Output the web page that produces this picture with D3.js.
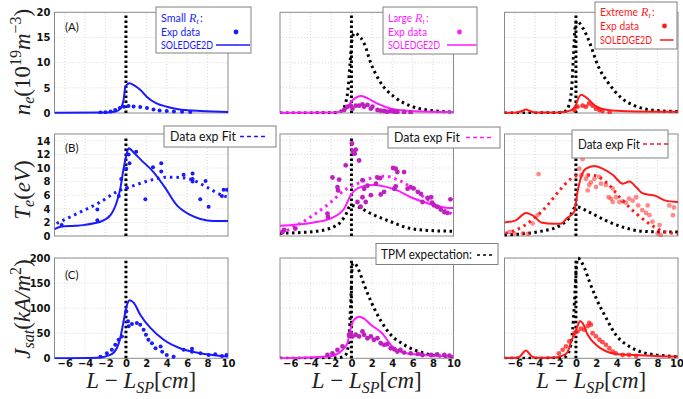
<!DOCTYPE html>
<html>
<head>
<meta charset="utf-8">
<script src="https://cdn.jsdelivr.net/npm/d3@7"></script>
<style>
  body { margin: 0; background: #fff; }
  svg { display: block; }
</style>
</head>
<body>
<svg id="chart" width="683" height="399"></svg>
<script>
// ---- axis ticks ----
const xTicks = [-6, -4, -2, 0, 2, 4, 6, 8, 10];
const neTicks = [0, 5, 10, 15, 20];
const teTicks = [0, 2, 4, 6, 8, 10, 12, 14];
const jsatTicks = [0, 50, 100, 150, 200];
const xDomain = [-7, 10];

// ---- row 1 : n_e ----
const neSmallSim = [[-7,0.05],[-2,0.1],[-1,0.3],[-0.5,1.0],[-0.23,2.6],[-0.05,5.2],[0.35,5.9],[0.8,5.5],[1.4,4.6],[2.06,3.2],[3,1.9],[4,1.25],[5,0.8],[6,0.55],[7.3,0.4],[8.5,0.3],[10,0.2]];
const neSmallExp = [[-2.5,0.1],[-2,0.15],[-1.5,0.3],[-1.05,0.6],[-0.6,1.0],[-0.2,1.25],[0.25,1.4],[0.75,1.3],[1.4,1.2],[2.06,1.0],[2.7,0.7],[3.3,0.5],[4,0.4],[4.7,0.3],[5.5,0.25],[6.3,0.2]];
const neLargeSim = [[-7,0.05],[-2,0.1],[-1,0.3],[-0.5,0.8],[0,2.3],[0.4,3.0],[0.93,3.4],[1.5,3.0],[2.5,1.9],[3.8,0.9],[5.1,0.5],[7,0.3],[10,0.2]];
const neLargeTpm = [[-7,0],[-2,0.05],[-1,0.4],[-0.6,1.8],[-0.35,4.5],[-0.15,9.5],[0.05,14.5],[0.3,15.9],[0.6,15.6],[1.25,13.8],[1.9,9.9],[2.9,5.9],[4.2,3.2],[5.8,1.4],[7.8,0.5],[10,0.2]];
const neLargeExp = [[-0.72,0.6],[-0.4,1.26],[-0.07,1.46],[0.1,0.86],[0.42,1.46],[0.75,1.46],[1.08,1.72],[1.24,1.26],[1.57,1.6],[1.9,0.86],[2.06,1.26],[2.55,0.6],[2.87,0.46],[3.2,0.4],[3.5,0.26],[3.85,0.4],[4.2,0.26],[4.5,0.2],[5.16,0.2],[5.8,0.1]];
const neExtremeSim = [[-7,0.05],[-5.8,0.1],[-5.3,0.4],[-4.9,0.7],[-4.5,0.4],[-4,0.1],[-2,0.1],[-1,0.25],[-0.4,0.6],[0,1.6],[0.25,3.0],[0.52,3.6],[1,3.1],[1.9,1.4],[3.1,0.6],[5,0.35],[10,0.25]];
const neExtremeTpm = [[-7,0],[-2,0.05],[-1,0.4],[-0.6,2.2],[-0.4,5.5],[-0.24,11.5],[-0.08,17],[0.1,18.3],[0.3,18],[0.7,16.8],[1.24,14.5],[2.2,9.2],[3.2,5.9],[4.5,2.9],[5.8,1.4],[7.8,0.5],[10,0.3]];
const neExtremeExp = [[-0.16,0.6],[0.16,1.26],[0.65,1.46],[0.98,1.26],[1.3,1.9],[1.63,1.46],[1.96,0.86],[2.3,0.6],[2.6,0.4],[3.3,0.2]];

// ---- row 2 : T_e ----
const teSmallSim = [[-7,1.0],[-6.4,1.35],[-5,1.5],[-4.2,1.6],[-3,1.9],[-2.5,2.1],[-1.5,3.1],[-0.9,5],[-0.55,7],[-0.23,9.9],[0.03,11.8],[0.26,12.9],[0.8,12.2],[1.4,11.3],[2.7,9.4],[3.7,7.4],[5,4.5],[6.3,3.1],[7.3,2.5],[8.6,2.2],[10,2.2]];
const teSmallFit = [[-6.8,1.85],[-4.5,3.5],[-2.5,5],[-0.9,6.5],[0.75,7.4],[2.4,8.2],[4,8.65],[5.3,8.6],[6.6,8.2],[7.9,7.2],[9.4,6.0],[10,5.7]];
const teSmallExp = [[-6.3,1.6],[-2.8,2.3],[-2.8,3.9],[-0.7,5.9],[-0.46,8.4],[0.03,9.9],[0.1,7.05],[0.26,12],[0.35,10.7],[1.0,12.4],[1.9,5.4],[2.65,10.1],[3.46,10.7],[3.46,9.5],[5.65,9.0],[6.53,9.2],[6.53,8.4],[6.53,8.0],[7.28,5.4],[7.8,8.1],[8.1,4.3],[9.4,5.9],[9.57,6.8],[9.9,6.8]];
const teLargeSim = [[-7,1.5],[-5.3,1.7],[-3.7,2.0],[-2.0,2.6],[-0.72,4.0],[-0.07,6.0],[0.59,7.0],[1.9,7.5],[3.2,7.3],[4.5,6.7],[5.8,5.7],[7.1,5.0],[8.4,4.4],[9.7,4.1],[10,4.1]];
const teLargeFit = [[-6.9,0.4],[-5.3,1.6],[-3.7,3.1],[-2.0,5.0],[-0.72,6.7],[0.59,7.7],[1.9,8.5],[3.2,8.8],[4.5,8.3],[5.8,7.2],[7.1,5.7],[8.4,4.5],[9.5,3.5],[10,3.2]];
const teLargeTpm = [[-7,0.4],[-3.7,0.65],[-1.4,1.6],[-0.6,3.0],[-0.07,4.5],[0.59,4.3],[1.9,3.3],[3.85,2.1],[5.8,1.1],[7.8,0.8],[10,0.7]];
const teLargeExp = [[0.1,12.5],[0.42,12.7],[0.32,12.1],[0.75,11.1],[-0.56,10.4],[-1.86,8.6],[-1.2,8.3],[-1.37,7.2],[-1.31,6.7],[-2.35,3.3],[-2.3,2.8],[1.08,8.2],[1.24,6.95],[1.08,5.7],[1.4,5.0],[1.57,7.4],[1.9,6.0],[2.4,7.7],[2.55,8.6],[2.8,8.5],[3.2,6.5],[2.87,6.1],[4.08,10.0],[4.34,9.9],[4.5,9.4],[5.16,9.4],[5.5,6.95],[5.8,7.2],[6.1,7.0],[6.5,6.5],[6.8,6.2],[6.96,5.0],[7.45,5.6],[7.8,5.7],[7.9,4.9],[8.1,4.5],[8.4,4.3],[8.75,3.9],[9.1,3.5],[9.4,3.4],[9.7,5.4],[4.34,7.3],[4.2,6.95],[0.59,5.0],[0.9,4.3],[-5.5,1.1],[-6.6,0.9],[-6.75,0.6],[0.05,13.6]];
const teExtremeSim = [[-7,2.0],[-5.9,2.3],[-4.9,3.4],[-4.1,2.9],[-3.4,2.0],[-2.2,1.8],[-1.5,1.8],[-0.9,2.6],[-0.16,3.6],[0.16,6.5],[0.49,8.6],[0.98,9.9],[1.8,10.3],[2.6,9.9],[3.6,9.0],[4.6,7.7],[5.23,8.0],[5.9,7.2],[6.5,6.3],[7.8,5.9],[8.8,5.2],[10,5.0]];
const teExtremeFit = [[-6.9,0.4],[-5.2,1.4],[-4.1,2.6],[-2.8,4.5],[-1.5,6.9],[-0.5,8.4],[0.5,9.0],[1.8,8.9],[3.1,7.7],[4.4,5.5],[5.9,3.3],[7.2,1.8],[8.5,0.7],[9.5,0.4],[10,0.3]];
const teExtremeTpm = [[-7,0.15],[-3.6,0.65],[-1.5,1.6],[-0.7,2.6],[0,4.3],[1.3,3.5],[2.9,2.3],[4.6,1.3],[6.5,0.7],[8.5,0.6],[10,0.6]];
const teExtremeExp = [[-3.66,9.1],[0.65,11.3],[0.33,9.9],[0.49,8.9],[1.15,8.9],[0.98,8.4],[1.47,7.9],[1.8,8.4],[2.29,8.7],[2.45,7.7],[1.96,7.2],[1.3,7.5],[1.15,6.7],[3.2,5.7],[3.43,5.5],[3.6,5.0],[3.92,5.7],[4.25,5.0],[4.58,5.1],[4.9,4.9],[5.2,5.5],[5.56,5.2],[5.9,5.7],[6.1,4.5],[6.5,3.8],[6.86,3.4],[7.2,3.06],[7.03,4.5],[7.5,2.1],[8.2,1.6],[9.15,4.5],[9.5,3.06],[9.6,4.2],[-3.76,3.06],[-4.25,1.85],[-5.2,0.4],[-6.05,0.4],[-6.5,0.6],[-4.7,0.3],[8.0,0.4],[8.3,0.15],[2.94,7.5],[3.6,7.0]];

// ---- row 3 : J_sat ----
const jsatSmallSim = [[-7,0],[-2.8,1.2],[-1.54,6.7],[-0.9,20],[-0.56,40],[-0.23,74],[0.03,101],[0.36,115.6],[0.75,111],[1.4,87],[2.4,60.5],[3.7,37],[5.3,20],[7.3,10],[9.3,4.7],[10,3.4]];
const jsatSmallExp = [[-2.5,3.3],[-1.87,10],[-1.38,16.8],[-1.05,26.8],[-0.72,37],[-0.4,43.6],[0.03,94],[0.2,74],[0.26,64],[0.59,68.5],[1.07,70.5],[1.4,67],[1.73,57],[1.96,47],[2.2,37],[2.55,30],[2.9,20],[3.4,23.4],[3.55,13.3],[4.0,6.6],[4.67,3.3],[5.65,16.8],[6.47,18.8],[6.47,13.3],[7.3,10],[8.1,6.6],[8.75,8],[9.4,4.6],[9.85,6.6]];
const jsatLargeSim = [[-7,0],[-2.35,3.4],[-1.05,13.4],[-0.4,30],[-0.07,60],[0.26,77],[0.75,83],[1.24,79],[1.9,67],[3.0,50],[4.0,23.6],[4.8,13.4],[6.1,8],[7.8,5.4],[10,3.4]];
const jsatLargeTpm = [[-7,0],[-2,0.5],[-1,2],[-0.6,6],[-0.35,20],[-0.2,55],[-0.05,120],[0.1,188],[0.3,190],[0.6,181],[1.24,147],[1.9,114],[2.9,74],[3.85,47],[5.16,27],[6.5,14],[7.77,7],[9.7,3.4],[10,3]];
const jsatLargeExp = [[-2.35,6.6],[-1.86,10],[-1.37,16.8],[-0.88,23.6],[-0.23,47],[-0.07,50],[0.1,43.6],[0.42,47],[0.75,43.6],[1.08,53.6],[1.24,47],[1.57,40],[1.9,43.6],[2.2,37],[2.55,40],[2.87,30],[3.2,26.8],[3.5,28],[3.85,20],[4.2,18],[4.5,13.4],[4.8,16.8],[5.16,11.4],[5.8,10],[6.5,8.7],[6.96,6.6],[7.8,6.6],[8.4,8],[9.1,6.6],[9.6,5.3]];
const jsatExtremeSim = [[-7,0.5],[-5.9,1],[-5.5,3.4],[-4.9,15.5],[-4.3,3.4],[-3.8,1],[-2.2,1.4],[-1.5,4],[-0.9,10],[-0.4,37],[0.16,64],[0.4,74.5],[0.65,70],[1.15,47],[1.96,27],[2.94,14],[3.9,8.7],[5.9,6.6],[7.8,4.7],[10,3.4]];
const jsatExtremeTpm = [[-7,0],[-2,0.5],[-1,3.4],[-0.5,27],[-0.26,74],[-0.07,141],[0.07,188],[0.2,200],[0.5,193],[0.82,181],[1.3,154],[1.96,121],[2.94,81],[3.9,47],[5.2,24],[6.5,12],[7.8,7],[9.8,3.4],[10,3.2]];
const jsatExtremeExp = [[-1.67,10],[-1.3,16.8],[-0.98,23.6],[-0.65,33.6],[-0.16,50],[0.16,53.6],[0.49,59],[0.82,57],[1.15,64],[1.3,70.5],[1.47,67],[1.63,50],[1.96,43.6],[2.3,37],[2.6,32.2],[2.94,26.8],[3.27,20],[3.6,13.4],[3.9,10],[4.58,6.6],[5.2,6.6],[5.9,4.6]];

// ---- layout ----
const svg = d3.select('#chart');
const colLeft = [54.5, 280, 504.5];
const colWidth = 173.5;
const rowTop = [12.3, 134, 258];
const rowBottom = [113, 236, 358.3];
const colors = ['#1a1aff', '#ff1aff', '#ff1a1a'];
const expOpacity = [[1, 1, 0.85], [1, 1, 0.5], [1, 1, 0.75]];

const rows = [
  { ticks: neTicks, max: 20, panels: [
      { sim: neSmallSim, exp: neSmallExp },
      { sim: neLargeSim, exp: neLargeExp, tpm: neLargeTpm },
      { sim: neExtremeSim, exp: neExtremeExp, tpm: neExtremeTpm }] },
  { ticks: teTicks, max: 15, panels: [
      { sim: teSmallSim, exp: teSmallExp, fit: teSmallFit },
      { sim: teLargeSim, exp: teLargeExp, fit: teLargeFit, tpm: teLargeTpm },
      { sim: teExtremeSim, exp: teExtremeExp, fit: teExtremeFit, tpm: teExtremeTpm }] },
  { ticks: jsatTicks, max: 200, panels: [
      { sim: jsatSmallSim, exp: jsatSmallExp },
      { sim: jsatLargeSim, exp: jsatLargeExp, tpm: jsatLargeTpm },
      { sim: jsatExtremeSim, exp: jsatExtremeExp, tpm: jsatExtremeTpm }] }
];

const tickFont = 'DejaVu Sans, sans-serif';
const mathFont = 'Liberation Serif, DejaVu Serif, serif';
const legendFont = 'Lato, Open Sans, sans-serif';

rows.forEach((row, r) => {
  row.panels.forEach((p, c) => {
    const x = d3.scaleLinear().domain(xDomain).range([colLeft[c], colLeft[c] + colWidth]);
    const y = d3.scaleLinear().domain([0, row.max]).range([rowBottom[r], rowTop[r]]);
    const g = svg.append('g');
    const clipId = `clip${r}${c}`;
    svg.append('clipPath').attr('id', clipId)
      .append('rect')
        .attr('x', x.range()[0]).attr('y', y.range()[1] - 2)
        .attr('width', colWidth).attr('height', y.range()[0] - y.range()[1] + 3);

    // grid
    g.append('g').selectAll('line')
      .data(xTicks.filter(t => t < 10))
      .join('line')
        .attr('x1', d => x(d)).attr('x2', d => x(d))
        .attr('y1', y(0)).attr('y2', y(row.max))
        .attr('stroke', '#c8c8c8').attr('stroke-width', 0.7).attr('stroke-dasharray', '1,2');
    g.append('g').selectAll('line')
      .data(row.ticks.filter(t => t > 0 && t < row.max))
      .join('line')
        .attr('x1', x.range()[0]).attr('x2', x.range()[1])
        .attr('y1', d => y(d)).attr('y2', d => y(d))
        .attr('stroke', '#c8c8c8').attr('stroke-width', 0.7).attr('stroke-dasharray', '1,2');

    g.append('rect')
      .attr('x', x.range()[0]).attr('y', y(row.max))
      .attr('width', colWidth).attr('height', y(0) - y(row.max))
      .attr('fill', 'none').attr('stroke', '#8a8a8a').attr('stroke-width', 1);

    const plot = g.append('g').attr('clip-path', `url(#${clipId})`);
    const line = d3.line().x(d => x(d[0])).y(d => y(d[1])).curve(d3.curveMonotoneX);

    // strike point marker at x = 0
    plot.append('line')
      .attr('x1', x(0)).attr('x2', x(0))
      .attr('y1', y(0)).attr('y2', y(row.max * 0.975))
      .attr('stroke', '#000').attr('stroke-width', 3).attr('stroke-dasharray', '2.5,2.5');

    if (p.tpm) {
      plot.append('path').datum(p.tpm)
        .attr('d', line).attr('fill', 'none')
        .attr('stroke', '#000').attr('stroke-width', 3).attr('stroke-dasharray', '2.5,3.5');
    }
    if (p.fit) {
      plot.append('path').datum(p.fit)
        .attr('d', line).attr('fill', 'none')
        .attr('stroke', colors[c]).attr('stroke-width', 3).attr('stroke-dasharray', '2.5,4');
    }
    plot.append('path').datum(p.sim)
      .attr('d', line).attr('fill', 'none')
      .attr('stroke', colors[c]).attr('stroke-width', 2);

    plot.append('g').selectAll('circle')
      .data(p.exp)
      .join('circle')
        .attr('cx', d => x(d[0])).attr('cy', d => y(d[1]))
        .attr('r', c === 0 ? 2 : 2.4)
        .attr('fill', c === 1 ? '#c020c0' : colors[c])
        .attr('fill-opacity', expOpacity[r][c]);

    // axes
    if (c === 0) {
      const ax = g.append('g')
        .attr('transform', `translate(${x.range()[0]},0)`)
        .call(d3.axisLeft(y).tickValues(row.ticks).tickSize(0).tickPadding(4));
      ax.select('.domain').remove();
      ax.selectAll('text')
        .attr('font-family', tickFont).attr('font-size', 10).attr('font-weight', 'bold').attr('fill', '#111');
    }
    if (r === 2) {
      const ax = g.append('g')
        .attr('transform', `translate(0,${y.range()[0]})`)
        .call(d3.axisBottom(x).tickValues(xTicks).tickSize(0).tickPadding(2));
      ax.select('.domain').remove();
      ax.selectAll('text')
        .attr('font-family', tickFont).attr('font-size', 10).attr('font-weight', 'bold').attr('fill', '#111');
      if (c === 2) {
        // keep the last label inside the page edge
        ax.selectAll('.tick').filter(d => d === 10).select('text')
          .attr('text-anchor', 'end').attr('dx', 5.5);
      }

      // x label
      const xl = svg.append('text')
        .attr('x', colLeft[c] + colWidth / 2).attr('y', 388)
        .attr('text-anchor', 'middle')
        .attr('font-family', mathFont).attr('font-size', 23).attr('fill', '#222');
      xl.append('tspan').attr('font-style', 'italic').text('L');
      xl.append('tspan').text(' − ');
      xl.append('tspan').attr('font-style', 'italic').text('L');
      xl.append('tspan').attr('font-style', 'italic').attr('font-size', 16).attr('dy', 5).text('SP');
      xl.append('tspan').attr('dy', -5).text('[');
      xl.append('tspan').attr('font-style', 'italic').text('cm');
      xl.append('tspan').text(']');
    }
  });
});

// panel letters
[['(A)', 27], ['(B)', 148], ['(C)', 275]].forEach(([t, yy]) => {
  svg.append('text').attr('x', 65).attr('y', yy + 4)
    .attr('font-family', legendFont).attr('font-size', 11.5).attr('fill', '#111').text(t);
});

// y labels
function yLabel(cy, build) {
  const t = svg.append('text')
    .attr('transform', `translate(30,${cy}) rotate(-90)`)
    .attr('text-anchor', 'middle')
    .attr('font-family', mathFont).attr('font-size', 23).attr('fill', '#222');
  build(t);
}
yLabel(62, t => {
  t.append('tspan').attr('font-style', 'italic').text('n');
  t.append('tspan').attr('font-style', 'italic').attr('font-size', 16).attr('dy', 4).text('e');
  t.append('tspan').attr('dy', -4).text('(10');
  t.append('tspan').attr('font-size', 16).attr('dy', -9).text('19');
  t.append('tspan').attr('font-style', 'italic').attr('dy', 9).text('m');
  t.append('tspan').attr('font-size', 16).attr('dy', -9).text('−3');
  t.append('tspan').attr('dy', 9).text(')');
});
yLabel(190, t => {
  t.append('tspan').attr('font-style', 'italic').text('T');
  t.append('tspan').attr('font-style', 'italic').attr('font-size', 16).attr('dy', 4).text('e');
  t.append('tspan').attr('dy', -4).text('(');
  t.append('tspan').attr('font-style', 'italic').text('eV');
  t.append('tspan').text(')');
});
yLabel(309, t => {
  t.append('tspan').attr('font-style', 'italic').text('J');
  t.append('tspan').attr('font-style', 'italic').attr('font-size', 16).attr('dy', 4).text('sat');
  t.append('tspan').attr('dy', -4).text('(');
  t.append('tspan').attr('font-style', 'italic').text('kA/m');
  t.append('tspan').attr('font-size', 16).attr('dy', -9).text('2');
  t.append('tspan').attr('dy', 9).text(')');
});

// ---- legends ----
function box(x0, y0, w, h) {
  svg.append('rect').attr('x', x0).attr('y', y0).attr('width', w).attr('height', h)
    .attr('fill', '#fff').attr('stroke', '#808080').attr('stroke-width', 1);
}
function legendText(x0, yy, str, width, color, size) {
  return svg.append('text').attr('x', x0).attr('y', yy)
    .attr('font-family', legendFont).attr('font-size', size).attr('fill', color)
    .attr('textLength', width).attr('lengthAdjust', 'spacingAndGlyphs')
    .text(str);
}
const caseNames = ['Small', 'Large', 'Extreme'];
const caseLegends = [
  { x0: 156, y0: 7, w: 95, h: 46, rowsY: [18.5, 32, 45], dotX: 236, lineX: [216, 250], nameW: 25 },
  { x0: 383, y0: 7, w: 94, h: 47, rowsY: [18.5, 32, 45], dotX: 459.5, lineX: [447, 476.5], nameW: 24 },
  { x0: 595, y0: 2, w: 82, h: 47, rowsY: [12.5, 26, 40], dotX: 664.5, lineX: [660, 673.5], nameW: 38 }
];
caseLegends.forEach((L, c) => {
  box(L.x0, L.y0, L.w, L.h);
  const tx = L.x0 + 5, ty = L.rowsY[0] + 3.5;
  legendText(tx, ty, caseNames[c], L.nameW, colors[c], 11);
  svg.append('text').attr('x', tx + L.nameW + 3).attr('y', ty)
    .attr('font-family', mathFont).attr('font-style', 'italic').attr('font-size', 12).attr('fill', colors[c]).text('R');
  svg.append('text').attr('x', tx + L.nameW + 10.5).attr('y', ty + 2)
    .attr('font-family', mathFont).attr('font-style', 'italic').attr('font-size', 8).attr('fill', colors[c]).text('t');
  svg.append('text').attr('x', tx + L.nameW + 14).attr('y', ty)
    .attr('font-family', legendFont).attr('font-size', 11).attr('fill', colors[c]).text(':');
  legendText(tx, L.rowsY[1] + 4, 'Exp data', 39, colors[c], 11);
  legendText(tx, L.rowsY[2] + 4, 'SOLEDGE2D', 52, colors[c], 11);
  svg.append('circle').attr('cx', L.dotX).attr('cy', L.rowsY[1]).attr('r', 2.4).attr('fill', colors[c]);
  svg.append('line').attr('x1', L.lineX[0]).attr('x2', L.lineX[1])
    .attr('y1', L.rowsY[2]).attr('y2', L.rowsY[2]).attr('stroke', colors[c]).attr('stroke-width', 1.5);
});

const fitLegends = [
  { x0: 164, y0: 126, w: 112, h: 21, textW: 66, dash: [240, 268] },
  { x0: 388, y0: 127, w: 112, h: 21, textW: 66, dash: [466, 492] },
  { x0: 572, y0: 130, w: 96, h: 28, textW: 62, dash: [643, 668] }
];
fitLegends.forEach((L, c) => {
  box(L.x0, L.y0, L.w, L.h);
  legendText(L.x0 + 6, L.y0 + L.h / 2 + 4.5, 'Data exp Fit', L.textW, '#111', 13);
  svg.append('line').attr('x1', L.dash[0]).attr('x2', L.dash[1])
    .attr('y1', L.y0 + L.h / 2).attr('y2', L.y0 + L.h / 2)
    .attr('stroke', colors[c]).attr('stroke-width', 1.3).attr('stroke-dasharray', '4,3');
});

box(376, 243.5, 122, 21);
legendText(381, 258.5, 'TPM expectation:', 91, '#111', 13);
svg.append('line').attr('x1', 477).attr('x2', 494).attr('y1', 255).attr('y2', 255)
  .attr('stroke', '#000').attr('stroke-width', 1.3).attr('stroke-dasharray', '3,3');
</script>
</body>
</html>
